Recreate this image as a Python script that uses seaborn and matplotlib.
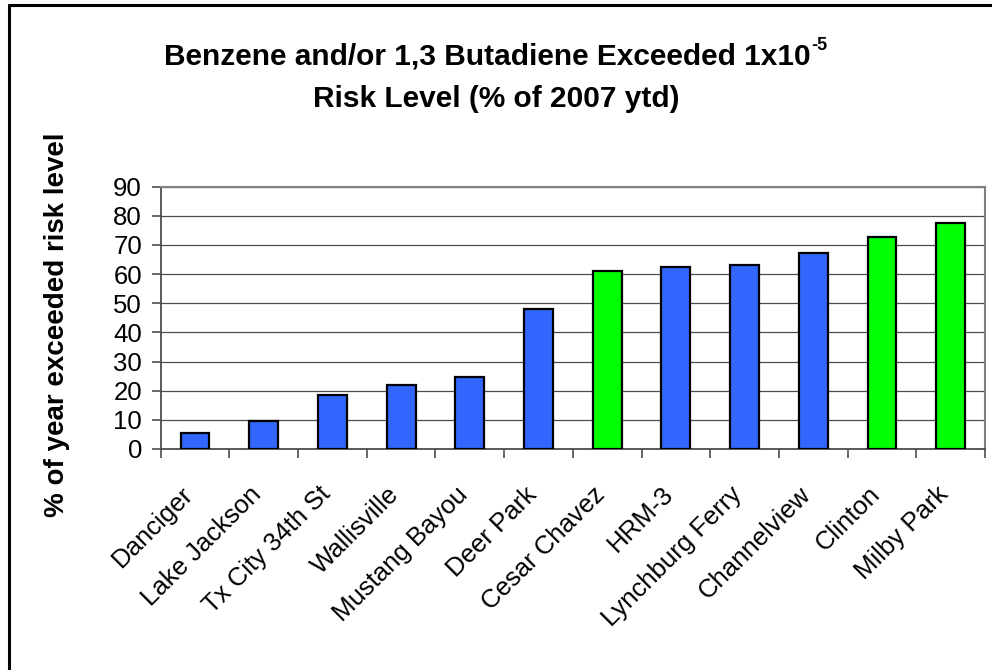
import matplotlib
matplotlib.use("Agg")
import matplotlib.pyplot as plt
import matplotlib.transforms as mtransforms
from matplotlib.lines import Line2D
import seaborn as sns
import pandas as pd

# ---- data ----
sites = ["Danciger", "Lake Jackson", "Tx City 34th St", "Wallisville",
         "Mustang Bayou", "Deer Park", "Cesar Chavez", "HRM-3",
         "Lynchburg Ferry", "Channelview", "Clinton", "Milby Park"]
pct_exceeded = [5.4, 9.6, 18.5, 22.0, 24.7, 48.0, 61.1, 62.5, 63.1, 67.4, 72.8, 77.7]
highlighted = [False, False, False, False, False, False, True, False, False, False, True, True]
y_ticks = [0, 10, 20, 30, 40, 50, 60, 70, 80, 90]
title_main = "Benzene and/or 1,3 Butadiene Exceeded 1x10"
title_sup = "-5"
title_line2 = "Risk Level (% of 2007 ytd)"
y_label = "% of year exceeded risk level"

BLUE = "#3366FF"
GREEN = "#00FF00"
W, H = 992, 670

sns.set_theme(style="white")
plt.rcParams["font.family"] = ["Liberation Sans", "DejaVu Sans"]

df = pd.DataFrame({"site": sites, "pct": pct_exceeded,
                   "grp": ["g" if h else "b" for h in highlighted]})

fig = plt.figure(figsize=(W / 100, H / 100), dpi=100)
ax = fig.add_axes([160.7 / W, 1 - 449 / H, (985 - 160.7) / W, (449 - 186.7) / H])

sns.barplot(data=df, x="site", y="pct", hue="grp", palette={"b": BLUE, "g": GREEN},
            order=sites, width=0.42, dodge=False, legend=False, saturation=1,
            edgecolor="black", linewidth=1.6, ax=ax, zorder=3)

ax.set_xlim(-0.5, len(sites) - 0.5)
ax.set_ylim(0, 90)
ax.set_yticks(y_ticks)
ax.yaxis.grid(True, color="#4d4d4d", linewidth=0.9, zorder=0)
ax.xaxis.grid(False)
ax.set_axisbelow(True)

for side in ["left", "bottom"]:
    ax.spines[side].set_color("#4d4d4d")
    ax.spines[side].set_linewidth(1.3)
for side in ["top", "right"]:
    ax.spines[side].set_visible(True)
    ax.spines[side].set_color("#808080")
    ax.spines[side].set_linewidth(1.5)

# category-boundary ticks
ax.set_xticks([i - 0.5 for i in range(len(sites) + 1)], minor=True)
ax.tick_params(axis="x", which="minor", bottom=True, length=6.5, width=1.2, color="#4d4d4d")
ax.tick_params(axis="x", which="major", bottom=False, length=0, pad=30)
ax.tick_params(axis="y", which="major", left=True, length=6.5, width=1.2,
               color="#4d4d4d", pad=7, labelsize=18.5, labelcolor="black")

ax.set_xticks(range(len(sites)))
ax.set_xticklabels(sites, rotation=45, ha="right", va="center",
                   rotation_mode="anchor", fontsize=18.5, color="black")
offset = mtransforms.ScaledTranslation(-6 / 100, 0, fig.dpi_scale_trans)
for lbl in ax.get_xticklabels():
    lbl.set_transform(lbl.get_transform() + offset)

ax.set_xlabel("")
ax.set_ylabel("")
fig.text(57 / W, 1 - 325 / H, y_label, rotation=90,
         ha="center", va="center", fontsize=20, fontweight="bold", color="black")

# title (first line with superscript exponent, centred as a whole)
t1 = fig.text(0, 1 - 64.3 / H, title_main, ha="left", va="baseline",
              fontsize=21.5, fontweight="bold", color="black")
t2 = fig.text(0, 1 - 50 / H, title_sup, ha="left", va="baseline",
              fontsize=13, fontweight="bold", color="black")
fig.canvas.draw()
r = fig.canvas.get_renderer()
w1 = t1.get_window_extent(r).width
w2 = t2.get_window_extent(r).width
x0 = (W - (w1 + 1 + w2)) / 2
t1.set_x(x0 / W)
t2.set_x((x0 + w1 + 1) / W)
fig.text(0.5, 1 - 106.7 / H, title_line2, ha="center", va="baseline",
         fontsize=21.5, fontweight="bold", color="black")

# chart area border (left and top visible)
fig.add_artist(Line2D([8.5 / W, 8.5 / W], [0, 1 - 5 / H], transform=fig.transFigure,
                      color="black", linewidth=2.2))
fig.add_artist(Line2D([8.5 / W, 1], [1 - 5 / H, 1 - 5 / H], transform=fig.transFigure,
                      color="black", linewidth=2.2))

fig.savefig("out.png", dpi=100, facecolor="white")
